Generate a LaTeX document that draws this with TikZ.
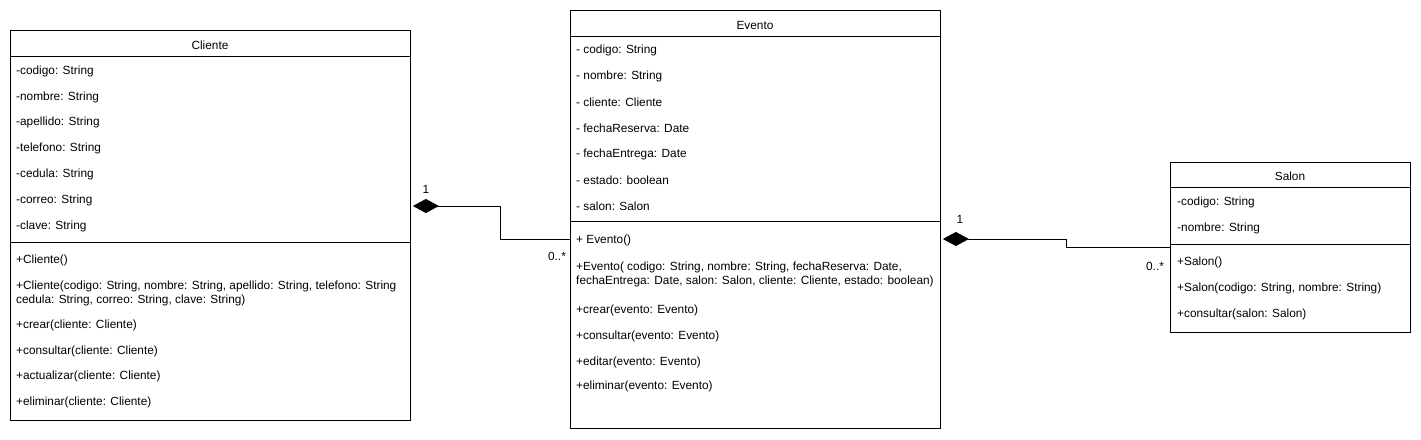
\documentclass[tikz,border=0pt]{standalone}
\usepackage{fontspec}
\setmainfont{Liberation Sans}
\usetikzlibrary{arrows.meta}
\begin{document}
\begin{tikzpicture}[x=1pt,y=-1pt,
  classbox/.style={draw=black,line width=0.9pt,fill=white,inner sep=0,anchor=north west},
  sepline/.style={draw=black,line width=0.9pt},
  member/.style={anchor=west,inner sep=0,yshift=-1.5pt,font=\fontsize{11.85}{14}\selectfont,align=left},
  ctitle/.style={inner sep=0,yshift=-1pt,font=\fontsize{11.85}{14}\selectfont},
  mult/.style={inner sep=0,yshift=-1pt,font=\fontsize{11.85}{14}\selectfont},
  comp/.style={draw=black,line width=0.9pt,-{Diamond[fill=black,length=26pt,width=14pt]},shorten >=2pt}
]
\useasboundingbox (0,0) rectangle (1421,439);
\fill[white] (0,0) rectangle (1421,439);

% Cliente
\node[classbox,minimum width=400pt,minimum height=390pt] (cliente) at (10,30) {};
\draw[sepline] (10,56) -- (410,56);
\draw[sepline] (10,242) -- (410,242);
\node[ctitle] (clienteT) at (210,44) {Cliente};
\node[member] (c1) at (16,70) {-codigo: String};
\node[member] (c2) at (16,96) {-nombre: String};
\node[member] (c3) at (16,121) {-apellido: String};
\node[member] (c4) at (16,147) {-telefono: String};
\node[member] (c5) at (16,173) {-cedula: String};
\node[member] (c6) at (16,199) {-correo: String};
\node[member] (c7) at (16,225) {-clave: String};
\node[member] (cm1) at (16,259) {+Cliente()};
\node[member] (cm2) at (16,291.5) {+Cliente(codigo: String, nombre: String, apellido: String, telefono: String\\cedula: String, correo: String, clave: String)};
\node[member] (cm3) at (16,324) {+crear(cliente: Cliente)};
\node[member] (cm4) at (16,350) {+consultar(cliente: Cliente)};
\node[member] (cm5) at (16,375) {+actualizar(cliente: Cliente)};
\node[member] (cm6) at (16,401) {+eliminar(cliente: Cliente)};

% Evento
\node[classbox,minimum width=370pt,minimum height=418pt] (evento) at (570,10) {};
\draw[sepline] (570,36) -- (940,36);
\draw[sepline] (570,221) -- (940,221);
\node[ctitle] (eventoT) at (755,24) {Evento};
\node[member] (e1) at (576,49) {- codigo: String};
\node[member] (e2) at (576,75) {- nombre: String};
\node[member] (e3) at (576,101) {- cliente: Cliente};
\node[member] (e4) at (576,127) {- fechaReserva: Date};
\node[member] (e5) at (576,153) {- fechaEntrega: Date};
\node[member] (e6) at (576,179) {- estado: boolean};
\node[member] (e7) at (576,205) {- salon: Salon};
\node[member] (em1) at (576,239) {+ Evento()};
\node[member] (em2) at (576,272.5) {+Evento( codigo: String, nombre: String, fechaReserva: Date,\\fechaEntrega: Date, salon: Salon, cliente: Cliente, estado: boolean)};
\node[member] (em3) at (576,309) {+crear(evento: Evento)};
\node[member] (em4) at (576,335) {+consultar(evento: Evento)};
\node[member] (em5) at (576,361) {+editar(evento: Evento)};
\node[member] (em6) at (576,385) {+eliminar(evento: Evento)};

% Salon
\node[classbox,minimum width=240pt,minimum height=170pt] (salon) at (1170,162) {};
\draw[sepline] (1170,187) -- (1410,187);
\draw[sepline] (1170,244) -- (1410,244);
\node[ctitle] (salonT) at (1290,175) {Salon};
\node[member] (s1) at (1177,201) {-codigo: String};
\node[member] (s2) at (1177,227) {-nombre: String};
\node[member] (sm1) at (1177,261) {+Salon()};
\node[member] (sm2) at (1177,287) {+Salon(codigo: String, nombre: String)};
\node[member] (sm3) at (1177,313) {+consultar(salon: Salon)};

% connectors
\coordinate (k1) at (500,239);
\coordinate (k2) at (500,206);
\draw[comp] (evento.west |- k1) -- (k1) -- (k2) -- (cliente.east |- k2);
\node[mult] (m1) at (426,188) {1};
\node[mult] (m2) at (557,255) {0..*};

\coordinate (k3) at (1066,247);
\coordinate (k4) at (1066,239);
\draw[comp] (salon.west |- k3) -- (k3) -- (k4) -- (evento.east |- k4);
\node[mult] (m3) at (960,218) {1};
\node[mult] (m4) at (1155,265) {0..*};
\end{tikzpicture}
\end{document}
